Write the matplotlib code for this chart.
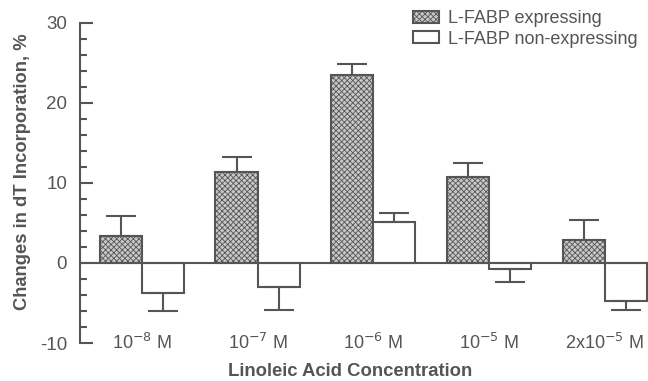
import numpy as np
import matplotlib
matplotlib.use('Agg')
import matplotlib.pyplot as plt

plt.rcParams['font.family'] = ['Liberation Sans', 'DejaVu Sans']
plt.rcParams['hatch.linewidth'] = 0.6
plt.rcParams['axes.unicode_minus'] = False

# concentrations and % change in dT incorporation
concs = ['10$^{-8}$ M', '10$^{-7}$ M', '10$^{-6}$ M', '10$^{-5}$ M', '2x10$^{-5}$ M']
expr = [3.4, 11.4, 23.5, 10.8, 2.9]
expr_err = [2.5, 1.9, 1.3, 1.7, 2.5]
nonexpr = [-3.7, -3.0, 5.1, -0.7, -4.7]
nonexpr_err = [2.3, 2.9, 1.2, 1.7, 1.2]

ink = '#555555'
x = np.arange(len(concs))
w = 0.363

fig = plt.figure(figsize=(6.48, 3.81), dpi=100)
ax = fig.add_axes([0.123, 0.0997, 0.877, 0.8403])

def one_sided(vals, errs):
    # error bar only away from zero
    lo = [e if v < 0 else 0 for v, e in zip(vals, errs)]
    hi = [e if v >= 0 else 0 for v, e in zip(vals, errs)]
    return [lo, hi]

b1 = ax.bar(x - w/2, expr, w, facecolor='#c8c8c8', edgecolor=ink, hatch='xxxxxx',
            linewidth=1.5, label='L-FABP expressing')
b2 = ax.bar(x + w/2, nonexpr, w, facecolor='white', edgecolor=ink,
            linewidth=1.5, label='L-FABP non-expressing')
ax.errorbar(x - w/2, expr, yerr=one_sided(expr, expr_err), fmt='none',
            ecolor=ink, elinewidth=1.5, capsize=11, capthick=1.5)
ax.errorbar(x + w/2, nonexpr, yerr=one_sided(nonexpr, nonexpr_err), fmt='none',
            ecolor=ink, elinewidth=1.5, capsize=11, capthick=1.5)

ax.axhline(0, color=ink, linewidth=1.5, zorder=3)

ax.set_xlim(-0.536, 4.373)
ax.set_ylim(-10, 30)
for s in ['top', 'right', 'bottom']:
    ax.spines[s].set_visible(False)
ax.spines['left'].set_color(ink)
ax.spines['left'].set_linewidth(1.5)

ax.set_yticks([-10, 0, 10, 20, 30])
ax.set_yticks(np.arange(-10, 31, 2), minor=True)
ax.tick_params(axis='y', which='major', direction='in', length=9, width=1.5,
               color=ink, labelcolor=ink, labelsize=13.5, pad=9)
ax.tick_params(axis='y', which='minor', direction='in', length=5, width=1.5, color=ink)

ax.set_xticks(x)
ax.set_xticklabels(concs)
ax.tick_params(axis='x', length=0, labelsize=13, labelcolor=ink, pad=-7)

fig.text(350/648, 0.025, 'Linoleic Acid Concentration', ha='center', va='center',
         fontsize=13.3, fontweight='bold', color=ink)
fig.text(0.034, 0.55, 'Changes in dT Incorporation, %', ha='center', va='center',
         rotation=90, fontsize=13.2, fontweight='bold', color=ink)

leg = ax.legend(handles=[b1, b2], loc='upper left', bbox_to_anchor=(413/648, 1 - 10/381),
                bbox_transform=fig.transFigure, frameon=False, fontsize=13,
                handlelength=1.45, handleheight=0.65, handletextpad=0.5,
                labelspacing=0.2, borderpad=0, borderaxespad=0)
for t in leg.get_texts():
    t.set_color(ink)

fig.savefig('out.png', dpi=100)
